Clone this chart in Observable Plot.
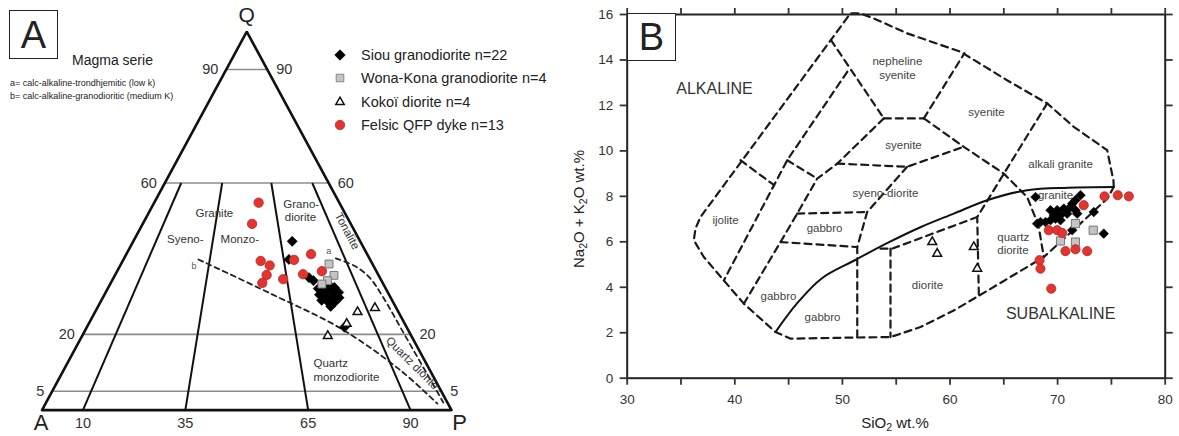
<!DOCTYPE html>
<html>
<head>
<meta charset="utf-8">
<script src="https://cdn.jsdelivr.net/npm/d3@7"></script>
<script src="https://cdn.jsdelivr.net/npm/@observablehq/plot@0.6"></script>
<style>
  html,body{margin:0;padding:0;background:#fff;}
  #wrap{position:relative;width:1179px;height:436px;overflow:hidden;font-family:"Liberation Sans",Arial,Helvetica,sans-serif;color:#222;}
  .panel{position:absolute;top:0;}
  .abs{position:absolute;white-space:nowrap;line-height:1;}
  .abs sub{font-size:0.7em;vertical-align:-0.3em;line-height:0;}
  .box{position:absolute;border:1.6px solid #222;box-sizing:border-box;display:flex;align-items:center;justify-content:center;font-size:38px;color:#222;background:#fff;line-height:1;}
  .legrow{position:absolute;left:331px;display:flex;align-items:center;font-size:14.5px;color:#222;height:18px;white-space:nowrap;}
  .legrow svg{width:18px;height:18px;margin-right:12px;}
</style>
</head>
<body>
<div id="wrap">
  <div id="panelA" class="panel" style="left:0"></div>
  <div id="panelB" class="panel" style="left:560px"></div>
  <div class="box" style="left:9px;top:10px;width:49px;height:49px;">A</div>
  <div class="abs" style="left:72px;top:52.5px;font-size:14px;">Magma serie</div>
  <div class="abs" style="left:10px;top:79px;font-size:9px;">a= calc-alkaline-trondhjemitic (low k)</div>
  <div class="abs" style="left:10px;top:92px;font-size:9px;">b= calc-alkaline-granodioritic (medium K)</div>
  <div id="legend"></div>
  <div class="box" style="left:627px;top:13px;width:49px;height:48px;">B</div>
  <div class="abs" style="left:895px;top:422px;font-size:15px;transform:translate(-50%,-50%);">SiO<sub>2</sub> wt.%</div>
  <div class="abs" style="left:578px;top:209px;font-size:15px;transform:translate(-50%,-50%) rotate(-90deg);">Na<sub>2</sub>O + K<sub>2</sub>O wt.%</div>
</div>
<script>
// ================= DATA =================
// ---- Panel A : QAP ternary, each point [Q, A, P] in % ----
const siouQAP = [[44.6,16.6,38.8],[39.8,19.8,40.4],[35.0,17.3,47.7],[34.2,16.6,49.2],[21.9,15.2,62.9],
  [32.9,15.1,52.0],[33.2,13.4,53.4],[32.4,12.4,55.2],[31.1,12.0,56.9],[31.6,13.7,54.7],[31.1,15.4,53.5],
  [30.5,17.0,52.5],[29.7,15.7,54.6],[29.7,14.0,56.3],[29.7,12.6,57.7],[29.0,17.2,53.8],[28.4,15.8,55.8],
  [28.7,14.0,57.3],[27.4,15.8,56.8],[31.9,14.8,53.3],[30.8,13.7,55.5],[32.1,16.5,51.4]];
const wonaQAP = [[38.6,10.6,50.8],[35.6,10.9,53.5],[34.2,13.2,52.6],[33.3,15.0,51.7]];
const kokoiQAP = [[25.9,10.0,64.1],[27.0,5.2,67.8],[22.8,14.2,63.0],[19.6,20.4,60.0]];
const felsicQAP = [[54.8,19.7,25.5],[49.2,24.1,26.7],[39.4,26.9,33.7],[38.2,25.3,36.5],[35.7,27.3,37.0],
  [33.6,29.4,37.0],[34.6,23.8,41.6],[39.7,18.6,41.7],[41.2,13.7,45.1],[35.9,18.3,45.8],[36.7,13.3,50.0]];
// magma series trends
const trendA = [[40.1,8.2,51.7],[38,4.5,57.5],[35,2.5,62.5],[30,1.8,68.2],[20,1.5,78.5],[10,1.2,88.8],[2,1,97]];
const trendB = [[39.8,41.9,18.3],[30.8,28.8,40.4],[21.6,16.3,62.1],[10.5,7.2,82.3],[1.7,2.6,95.7]];
// grid / field lines
const qLevels = [90, 60, 20, 5];
const pSplits = [10, 35, 65, 90];
const cornersQAP = [[0,100,0],[0,0,100],[100,0,0],[0,100,0],[0,0,100]];
const fieldLabelsA = [
  {t:"Granite", x:0.421, y:0.519}, {t:"Syeno-", x:0.350, y:0.450}, {t:"Monzo-", x:0.483, y:0.450},
  {t:"Grano-", x:0.633, y:0.545}, {t:"diorite", x:0.631, y:0.510}];
const fieldLabelsA2 = [{t:"Quartz", x:0.663, y:0.123}, {t:"monzodiorite", x:0.663, y:0.086}];
const rotLabelsA = [{t:"Tonalite", x:0.745, y:0.473, r:62}, {t:"Quartz diorite", x:0.904, y:0.124, r:45}];
const trendLabels = [{t:"a", x:0.700, y:0.419}, {t:"b", x:0.371, y:0.380}];

// ---- Panel B : TAS, each point [SiO2, Na2O+K2O] ----
const siouTAS = [[67.95,7.97],[72.13,8.05],[71.66,7.83],[71.36,7.68],[69.34,7.39],[69.96,7.39],[70.58,7.46],
  [71.04,7.46],[71.66,7.39],[69.65,7.17],[70.27,7.17],[70.89,7.24],[68.41,6.87],[68.88,6.87],[69.34,6.95],
  [69.80,7.02],[73.36,7.31],[71.36,6.51],[74.29,6.36],[68.10,6.80],[71.82,7.24],[70.27,6.95]];
const wonaTAS = [[71.66,6.80],[73.31,6.51],[70.27,6.04],[71.66,5.99]];
const kokoiTAS = [[58.35,5.99],[58.81,5.48],[62.21,5.77],[62.53,4.82]];
const felsicTAS = [[74.36,8.0],[75.59,8.05],[76.62,8.0],[72.43,7.61],[69.18,6.51],[69.96,6.51],[70.43,6.39],
  [70.73,5.59],[71.66,5.67],[72.75,5.59],[68.32,5.19],[68.41,4.82],[69.41,3.94]];
// field boundaries (dashed)
const outerB = [[75.22,8.41],[75.19,8.71],[74.92,9.30],[74.61,10.03],[71.5,11.06],[69.03,12.09],[65.3,13.11],
  [60.98,14.36],[56.02,15.17],[52.9,15.83],[51.68,16.05],[50.75,16.05],[36.81,7.09],[36.35,6.59],[36.19,6.07],
  [37.12,5.33],[38.98,4.30],[40.84,3.28],[43.78,2.03],[45.18,1.74],[51.38,1.79],[54.47,1.81],[57.26,2.25],
  [60.35,2.98],[62.84,3.67],[68.72,5.33],[71.66,6.6],[74.61,7.90],[75.22,8.41]];
const ijoliteTop = [[40.53,9.59],[43.65,8.49]];
const diag2 = [[50.45,13.48],[44.87,9.59],[38.98,4.30]];
const diagLink = [[44.87,9.59],[47.66,8.78]];
const diag3 = [[53.85,11.43],[49.52,9.44],[47.66,8.78],[45.80,7.24],[44.25,5.99],[40.84,3.28]];
const nephSyLeft = [[48.93,14.88],[53.85,11.43]];
const syeniteTop = [[53.85,11.43],[57.57,11.43]];
const syeniteRight = [[57.57,11.43],[61.35,14.3]];
const graniteLeft = [[57.57,11.43],[61.28,10.18],[65.0,9.0],[67.17,7.97],[68.22,6.73],[68.72,5.33]];
const syeniteBottom = [[49.52,9.44],[56.02,9.30],[61.28,10.18]];
const syenoDioRight = [[56.02,9.30],[52.30,7.31],[51.38,5.77],[51.38,1.79]];
const gabbroTop = [[45.80,7.24],[52.30,7.31]];
const gabbroBottom = [[44.25,5.99],[51.38,5.77]];
const dioriteTop = [[53.54,5.70],[54.63,5.70],[62.53,7.09]];
const dioriteLeft = [[54.47,5.70],[54.47,1.81]];
const alkGraniteLeft = [[69.03,12.09],[62.53,7.09],[62.68,3.64]];
// alkaline / subalkaline divide (solid)
const alkDivide = [[43.78,2.03],[45.8,3.3],[48.1,4.4],[51.2,5.2],[54.2,5.95],[57.3,6.65],[60.35,7.24],
  [63.46,7.83],[67.17,8.27],[71,8.38],[75.22,8.41]];
const xTicks = [30,35,40,45,50,55,60,65,70,75,80];
const yTicks = [0,2,4,6,8,10,12,14,16];
const fieldLabelsB = [
  {t:"nepheline", x:55.11, y:13.95}, {t:"syenite", x:55.11, y:13.31}, {t:"syenite", x:63.39, y:11.70},
  {t:"syenite", x:55.68, y:10.25}, {t:"alkali granite", x:70.28, y:9.41}, {t:"syeno-diorite", x:54.0, y:8.14},
  {t:"granite", x:69.81, y:8.05}, {t:"ijolite", x:39.14, y:6.95}, {t:"gabbro", x:48.34, y:6.59},
  {t:"gabbro", x:44.06, y:3.60}, {t:"gabbro", x:48.15, y:2.68}, {t:"diorite", x:57.91, y:4.08}];
const fieldLabelsB2 = [{t:"quartz", x:64.39, y:6.20}, {t:"diorite", x:64.39, y:5.63}];
const seriesLabelsB = [{t:"ALKALINE", x:38.11, y:12.72}, {t:"SUBALKALINE", x:70.28, y:2.85}];

const legendItems = [
  {label:"Siou granodiorite n=22", sym:d3.symbolDiamond2, size:70, fill:"#000", stroke:"#000"},
  {label:"Wona-Kona granodiorite n=4", sym:d3.symbolSquare2, size:75, fill:"#c4c4c4", stroke:"#777"},
  {label:"Kokoï diorite n=4", sym:d3.symbolTriangle2, size:50, fill:"none", stroke:"#111"},
  {label:"Felsic QFP dyke n=13", sym:d3.symbolCircle, size:70, fill:"#e3342f", stroke:"#b02a25"}];

// ================= HELPERS =================
const FONT = "Liberation Sans, Arial, Helvetica, sans-serif";
const T = ([q,a,p]) => { const s = q + a + p; return {x:(p + q/2)/s, y:q/s}; };
const toXY = arr => arr.map(T);

// ================= PANEL A =================
const plotA = Plot.plot({
  width: 480, height: 436, margin: 0,
  x: {domain:[0,1], range:[41.5,451], axis:null},
  y: {domain:[0,1], range:[409.6,31.1], axis:null},
  style: {fontFamily: FONT, background:"transparent", color:"#222", overflow:"visible"},
  marks: [
    Plot.link(qLevels, {x1:q=>T([q,100-q,0]).x, y1:q=>q/100, x2:q=>T([q,0,100-q]).x, y2:q=>q/100,
      stroke:"#8c8c8c", strokeWidth:1.6}),
    Plot.link(pSplits, {x1:v=>v/100, y1:()=>0, x2:v=>T([60,0.4*(100-v),0.4*v]).x, y2:()=>0.6,
      stroke:"#111", strokeWidth:2}),
    Plot.line(toXY(cornersQAP), {x:"x", y:"y", stroke:"#111", strokeWidth:2.6, strokeLinejoin:"miter"}),
    Plot.line(toXY(trendB), {x:"x", y:"y", stroke:"#222", strokeWidth:1.8, strokeDasharray:"5,4", curve:"catmull-rom"}),
    Plot.line(toXY(trendA), {x:"x", y:"y", stroke:"#222", strokeWidth:1.8, strokeDasharray:"5,4", curve:"catmull-rom"}),
    Plot.dot(toXY(siouQAP), {x:"x", y:"y", symbol:"diamond2", r:4.6, fill:"#000", stroke:"#000", strokeWidth:0.5}),
    Plot.dot(toXY(wonaQAP), {x:"x", y:"y", symbol:"square2", r:5, fill:"#c4c4c4", stroke:"#777", strokeWidth:1}),
    Plot.dot(toXY(kokoiQAP), {x:"x", y:"y", symbol:"triangle2", r:4.2, fill:"#fff", stroke:"#111", strokeWidth:1.5}),
    Plot.dot(toXY(felsicQAP), {x:"x", y:"y", symbol:"circle", r:4.7, fill:"#e3342f", stroke:"#b02a25", strokeWidth:0.8}),
    // Q-level labels
    Plot.text(qLevels, {x:q=>T([q,100-q,0]).x, y:q=>q/100, text:q=>String(q), textAnchor:"end", dx:-8, fontSize:14.5, fill:"#333"}),
    Plot.text(qLevels, {x:q=>T([q,0,100-q]).x, y:q=>q/100, text:q=>String(q), textAnchor:"start", dx:9, fontSize:14.5, fill:"#333"}),
    Plot.text(pSplits, {x:v=>v/100, y:()=>0, text:v=>String(v), dy:13, fontSize:14.5, fill:"#333"}),
    // corners
    Plot.text(["Q"], {x:()=>T([100,0,0]).x, y:()=>T([100,0,0]).y, text:d=>d, dy:-16, fontSize:21, fill:"#222"}),
    Plot.text(["A"], {x:()=>T([0,100,0]).x, y:()=>0, text:d=>d, dy:13, dx:-1, fontSize:22, fill:"#222"}),
    Plot.text(["P"], {x:()=>T([0,0,100]).x, y:()=>0, text:d=>d, dy:13, dx:8, fontSize:22, fill:"#222"}),
    // field labels
    Plot.text(fieldLabelsA, {x:"x", y:"y", text:"t", fontSize:11.5, fill:"#333"}),
    Plot.text(fieldLabelsA2, {x:"x", y:"y", text:"t", fontSize:11.5, fill:"#333", textAnchor:"start"}),
    Plot.text(rotLabelsA, {x:"x", y:"y", text:"t", rotate:"r", fontSize:11.5, fill:"#333"}),
    Plot.text(trendLabels, {x:"x", y:"y", text:"t", fontSize:9, fill:"#555"})
  ]
});
document.getElementById("panelA").append(plotA);

// ================= PANEL B =================
const boundaries = [outerB, ijoliteTop, diag2, diagLink, diag3, nephSyLeft, syeniteTop, syeniteRight,
  graniteLeft, syeniteBottom, syenoDioRight, gabbroTop, gabbroBottom, dioriteTop, dioriteLeft, alkGraniteLeft];
const boundaryRows = boundaries.flatMap((pts, i) => pts.map(([x, y]) => ({x, y, id:i})));

const plotB = Plot.plot({
  width: 619, height: 436, marginTop: 14, marginBottom: 58.3, marginLeft: 66.7, marginRight: 14.3,
  x: {domain:[30,80]}, y: {domain:[0,16]},
  style: {fontFamily: FONT, background:"transparent", color:"#333", overflow:"visible"},
  marks: [
    Plot.line(boundaryRows, {x:"x", y:"y", z:"id", stroke:"#1a1a1a", strokeWidth:2.2, strokeDasharray:"7,5"}),
    Plot.line(alkDivide, {stroke:"#111", strokeWidth:2, curve:"catmull-rom"}),
    Plot.frame({stroke:"#222", strokeWidth:2}),
    Plot.axisX({anchor:"bottom", ticks:xTicks, tickSize:7, tickPadding:9, tickFormat:d => d % 10 === 0 ? String(d) : "", fontSize:13.5, label:null, strokeWidth:1.8}),
    Plot.axisX({anchor:"top", ticks:xTicks, tickSize:7, tickFormat:() => "", label:null, strokeWidth:1.8}),
    Plot.axisY({anchor:"left", ticks:yTicks, tickSize:7, tickPadding:7, fontSize:13.5, label:null, strokeWidth:1.8}),
    Plot.axisY({anchor:"right", ticks:yTicks, tickSize:7, tickFormat:() => "", label:null, strokeWidth:1.8}),
    Plot.text(fieldLabelsB, {x:"x", y:"y", text:"t", fontSize:11.5, fill:"#444"}),
    Plot.text(fieldLabelsB2, {x:"x", y:"y", text:"t", fontSize:11.5, fill:"#444", textAnchor:"start"}),
    Plot.text(seriesLabelsB, {x:"x", y:"y", text:"t", fontSize:16, fill:"#333"}),
    Plot.dot(siouTAS, {symbol:"diamond2", r:4.4, fill:"#000", stroke:"#000", strokeWidth:0.5}),
    Plot.dot(wonaTAS, {symbol:"square2", r:5.2, fill:"#c4c4c4", stroke:"#777", strokeWidth:1}),
    Plot.dot(kokoiTAS, {symbol:"triangle2", r:4.2, fill:"#fff", stroke:"#111", strokeWidth:1.5}),
    Plot.dot(felsicTAS, {symbol:"circle", r:4.6, fill:"#e3342f", stroke:"#b02a25", strokeWidth:0.8})
  ]
});
document.getElementById("panelB").append(plotB);

// ================= LEGEND (panel A) =================
const legendTops = [46, 69.3, 92.6, 116];
const leg = document.getElementById("legend");
legendItems.forEach((it, i) => {
  const row = document.createElement("div");
  row.className = "legrow";
  row.style.top = legendTops[i] + "px";
  const svg = d3.create("svg").attr("viewBox", "-9 -9 18 18");
  svg.append("path").attr("d", d3.symbol(it.sym, it.size)()).attr("fill", it.fill)
    .attr("stroke", it.stroke).attr("stroke-width", it.fill === "none" ? 1.5 : 0.8);
  row.append(svg.node());
  const span = document.createElement("span");
  span.textContent = it.label;
  row.append(span);
  leg.append(row);
});
</script>
</body>
</html>
